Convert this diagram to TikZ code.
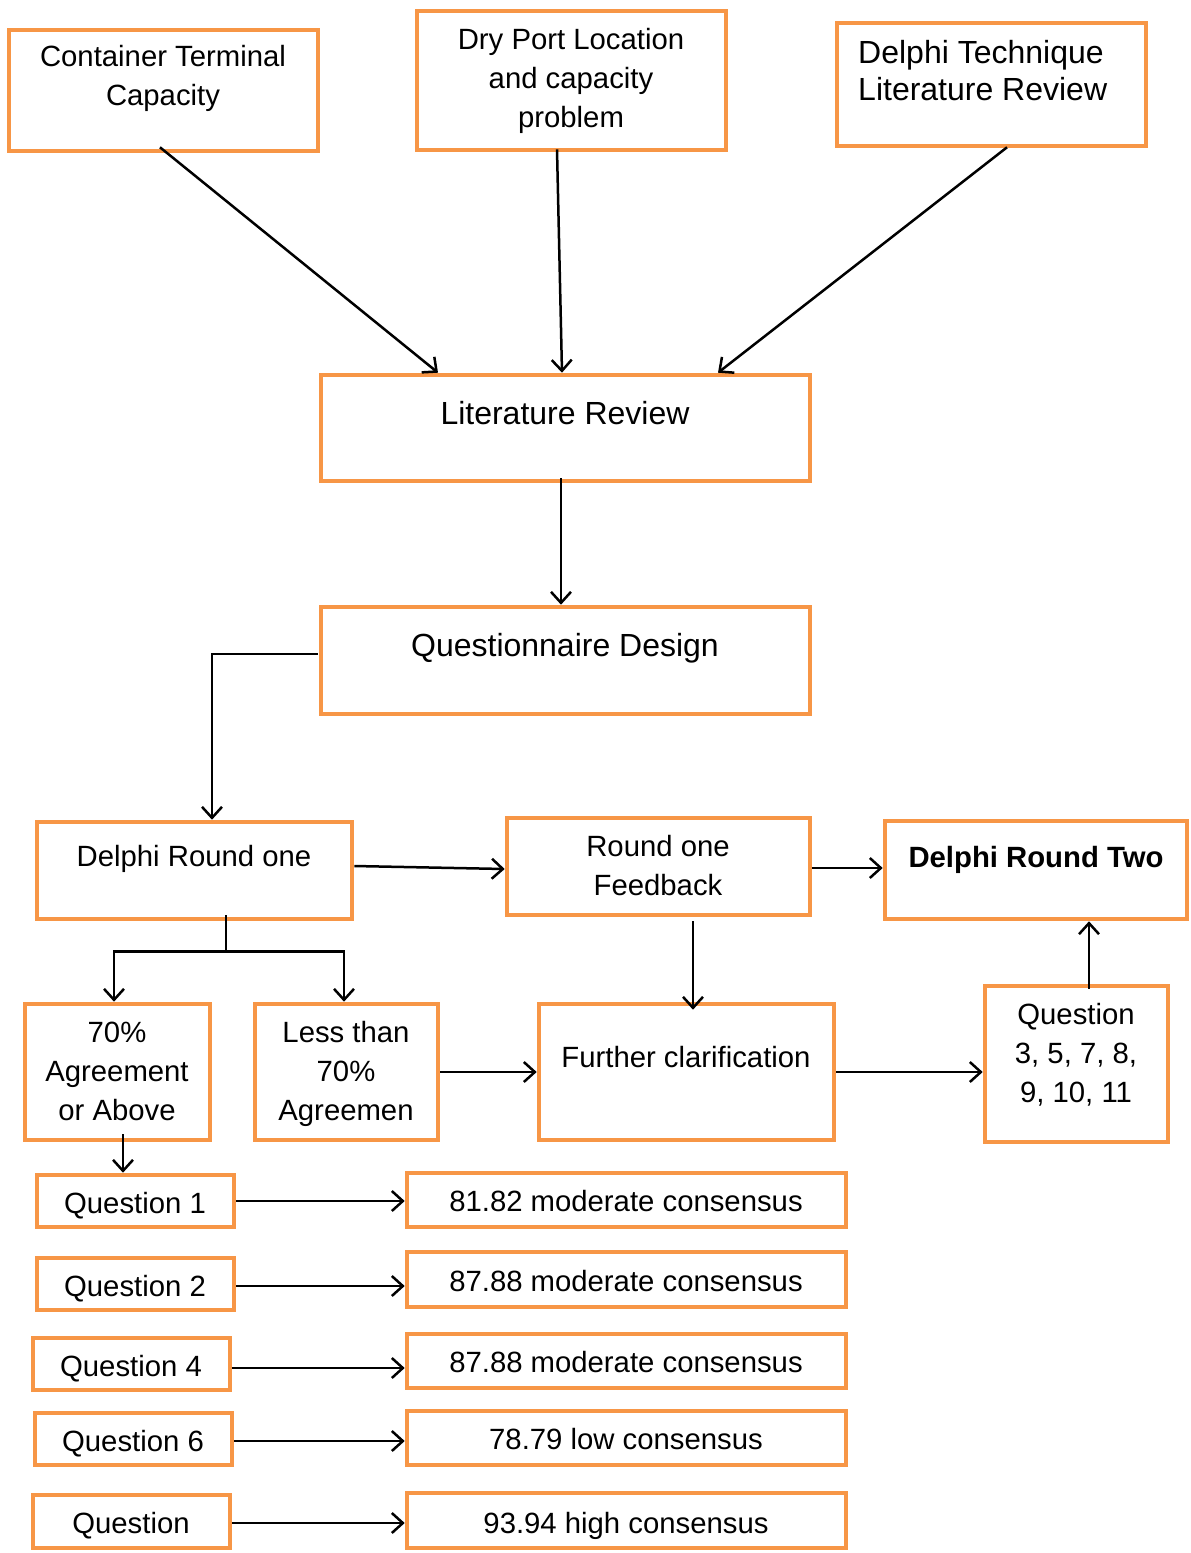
\documentclass[tikz,border=0pt]{standalone}
\usepackage{fontspec}
\setmainfont{Liberation Sans}
\usetikzlibrary{arrows.meta}
\definecolor{org}{HTML}{F79646}
\begin{document}
\begin{tikzpicture}[x=1pt,y=-1pt,
  obox/.style={draw=org, line width=4.6pt, inner sep=0pt, outer sep=2.3pt},
  txt/.style={inner sep=0pt, align=center, anchor=base, font=\fontsize{29.3}{39}\selectfont},
  bigtxt/.style={inner sep=0pt, align=center, anchor=base, font=\fontsize{32}{37}\selectfont},
  arr/.style={line width=2.5pt, -{Straight Barb[length=11pt,width=20pt]}},
  ln/.style={line width=2.5pt}]
\fill[white] (0,0) rectangle (1191,1553);
\useasboundingbox (0,0) rectangle (1191,1553);
% boxes
\node[obox, minimum width=309pt, minimum height=121pt] (ctc) at (163.5,90.5) {};
\node[obox, minimum width=309pt, minimum height=139pt] (dpl) at (571.5,80.5) {};
\node[obox, minimum width=309pt, minimum height=123pt] (dtl) at (991.5,84.5) {};
\node[obox, minimum width=489pt, minimum height=106pt] (lr) at (565.5,428) {};
\node[obox, minimum width=489pt, minimum height=107pt] (qd) at (565.5,660.5) {};
\node[obox, minimum width=315pt, minimum height=97pt] (dr1) at (194.5,870.5) {};
\node[obox, minimum width=303pt, minimum height=97pt] (rof) at (658.5,866.5) {};
\node[obox, minimum width=302pt, minimum height=98pt] (dr2) at (1036,870) {};
\node[obox, minimum width=185pt, minimum height=136pt] (agr) at (117.5,1072) {};
\node[obox, minimum width=183pt, minimum height=136pt] (lt) at (346.5,1072) {};
\node[obox, minimum width=295pt, minimum height=136pt] (fc) at (686.5,1072) {};
\node[obox, minimum width=183pt, minimum height=156pt] (q35) at (1076.5,1064) {};
\node[obox, minimum width=197pt, minimum height=52pt] (q1) at (135.5,1201) {};
\node[obox, minimum width=439pt, minimum height=54pt] (r1) at (626.5,1200) {};
\node[obox, minimum width=197pt, minimum height=52pt] (q2) at (135.5,1284) {};
\node[obox, minimum width=439pt, minimum height=55pt] (r2) at (626.5,1279.5) {};
\node[obox, minimum width=197pt, minimum height=52pt] (q4) at (131.5,1364) {};
\node[obox, minimum width=439pt, minimum height=54pt] (r3) at (626.5,1361) {};
\node[obox, minimum width=197pt, minimum height=52pt] (q6) at (133.5,1439) {};
\node[obox, minimum width=439pt, minimum height=54pt] (r4) at (626.5,1438) {};
\node[obox, minimum width=197pt, minimum height=53pt] (q7) at (131.5,1521.5) {};
\node[obox, minimum width=439pt, minimum height=55pt] (r5) at (626.5,1520.5) {};
% texts (anchor base = baseline of the last line)
\node[txt] (tctc) at (163,105) {Container Terminal\\Capacity};
\node[txt] (tdpl) at (571,127) {Dry Port Location\\and capacity\\problem};
\node[bigtxt, align=left, anchor=base west] (tdtl) at (858,100) {Delphi Technique\\Literature Review};
\node[bigtxt] (tlr) at (565,424) {Literature Review};
\node[bigtxt] (tqd) at (565,656) {Questionnaire Design};
\node[txt] (tdr1) at (194,866) {Delphi Round one};
\node[txt] (trof) at (658,895) {Round one\\Feedback};
\node[txt, font=\fontsize{29.3}{39}\selectfont\bfseries] (tdr2) at (1036,867) {Delphi Round Two};
\node[txt] (tagr) at (117,1120) {70\%\\Agreement\\or Above};
\node[txt] (tlt) at (346,1120) {Less than\\70\%\\Agreemen};
\node[txt] (tfc) at (686,1067) {Further clarification};
\node[txt] (tq35) at (1076,1102) {Question\\3, 5, 7, 8,\\9, 10, 11};
\node[txt] (tq1) at (135,1213) {Question 1};
\node[txt] (tr1) at (626,1211) {81.82 moderate consensus};
\node[txt] (tq2) at (135,1296) {Question 2};
\node[txt] (tr2) at (626,1291) {87.88 moderate consensus};
\node[txt] (tq4) at (131,1376) {Question 4};
\node[txt] (tr3) at (626,1372) {87.88 moderate consensus};
\node[txt] (tq6) at (133,1451) {Question 6};
\node[txt] (tr4) at (626,1449) {78.79 low consensus};
\node[txt] (tq7) at (131,1533) {Question};
\node[txt] (tr5) at (626,1533) {93.94 high consensus};
% connectors
\draw[arr] ([shift={(-3.5,-6)}]ctc.south) -- ([shift={(-127.5,0)}]lr.north);
\draw[arr] ([shift={(-14.5,-3)}]dpl.south) -- ([shift={(-3.5,0)}]lr.north);
\draw[arr] ([shift={(15.5,-1)}]dtl.south) -- ([shift={(152.5,0)}]lr.north);
\draw[arr] ([shift={(-4.5,-5)}]lr.south) -- ([shift={(-4.5,0)}]qd.north);
\draw[arr] ([shift={(-1,-6.5)}]qd.west) -| ([shift={(17.5,0)}]dr1.north);
\draw[arr] ([shift={(0,-4.5)}]dr1.east) -- ([shift={(0,2.5)}]rof.west);
\draw[arr] ([shift={(0,1.5)}]rof.east) -- ([shift={(0,-2)}]dr2.west);
\draw[arr] ([shift={(34.5,4)}]rof.south) -- ([shift={(6.5,8)}]fc.north);
\draw[ln] ([shift={(31.5,-6)}]dr1.south) -- ++(0,36) coordinate (j);
\draw[arr] (j) -| ([shift={(-3.5,0)}]agr.north);
\draw[arr] (j) -| ([shift={(-2.5,0)}]lt.north);
\draw[arr] ([shift={(5.5,-8)}]agr.south) -- ([shift={(-12.5,0)}]q1.north);
\draw[arr] (lt.east) -- (lt.east -| fc.west);
\draw[arr] (fc.east) -- (fc.east -| q35.west);
\draw[arr] ([shift={(12.5,5)}]q35.north) -- ([shift={(53,0)}]dr2.south);
\draw[arr] (q1.east) -- (q1.east -| r1.west);
\draw[arr] ([shift={(0,2)}]q2.east) -- ([shift={(0,2)}]q2.east -| r2.west);
\draw[arr] ([shift={(0,4)}]q4.east) -- ([shift={(0,4)}]q4.east -| r3.west);
\draw[arr] ([shift={(0,2)}]q6.east) -- ([shift={(0,2)}]q6.east -| r4.west);
\draw[arr] ([shift={(0,1.5)}]q7.east) -- ([shift={(0,1.5)}]q7.east -| r5.west);
\end{tikzpicture}
\end{document}
